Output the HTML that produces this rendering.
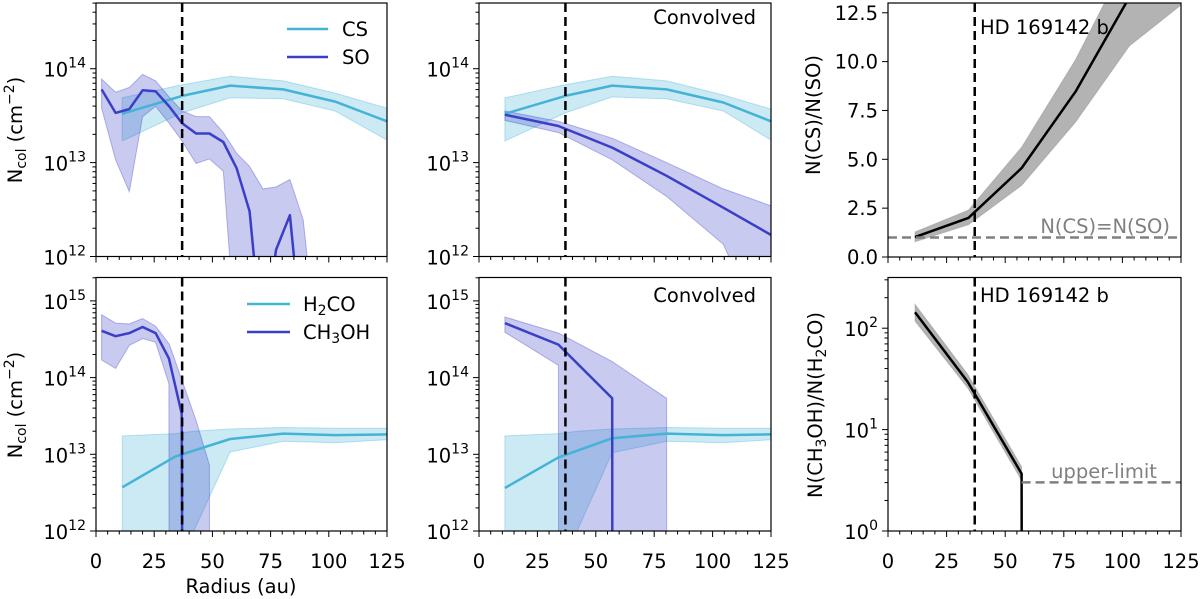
<!DOCTYPE html>
<html><head><meta charset="utf-8">
<style>
html,body{margin:0;padding:0;background:#fff;overflow:hidden;width:1200px;height:599px;}
svg{display:block;font-family:"DejaVu Sans","Liberation Sans",sans-serif;}
</style></head>
<body>
<svg id="fig" width="1200" height="599" viewBox="0 0 1200 599" xmlns="http://www.w3.org/2000/svg"></svg>
<script>
// ---- data (log panels store log10 values; 10 = below axis) ----
const planetR = 37;
// Panel 1 top: CS / SO
const p1csX = [11.2, 37, 57.6, 80.4, 102.7, 125];
const p1csY = [13.52, 13.71, 13.82, 13.78, 13.65, 13.44];
const p1csHi = [13.69, 13.83, 13.92, 13.87, 13.74, 13.58];
const p1csLo = [13.23, 13.53, 13.69, 13.68, 13.55, 13.24];
const p1soX = [2.4, 8.4, 14.3, 20, 25.6, 31.4, 37, 43, 48.7, 54.7, 60.4, 66, 71.7, 77.3, 83.3, 89, 95];
const p1soY = [13.78, 13.53, 13.57, 13.77, 13.76, 13.6, 13.42, 13.31, 13.31, 13.22, 12.94, 12.48, 11.0, 12.07, 12.44, 11.0, 10];
const p1soHi = [13.89, 13.75, 13.80, 13.94, 13.87, 13.7, 13.55, 13.49, 13.49, 13.32, 13.10, 12.96, 12.72, 12.74, 12.82, 12.39, 11.0];
const p1soLo = [13.58, 13.03, 12.69, 13.49, 13.60, 13.42, 13.23, 12.99, 13.04, 12.91, 11.0, 10, 10, 10, 10, 10, 10];
// Panel 2 top: convolved
const p2csX = [11.1, 37, 57, 80.3, 104.6, 125];
const p2csY = [13.52, 13.71, 13.82, 13.78, 13.64, 13.44];
const p2csHi = [13.69, 13.83, 13.92, 13.87, 13.72, 13.57];
const p2csLo = [13.23, 13.53, 13.70, 13.68, 13.55, 13.24];
const p2soX = [11.1, 34, 57, 80.3, 104.6, 125];
const p2soY = [13.51, 13.39, 13.16, 12.86, 12.52, 12.23];
const p2soHi = [13.55, 13.44, 13.26, 13.00, 12.72, 12.54];
const p2soLo = [13.45, 13.32, 13.03, 12.64, 12.13, 11.0];
// Panel 1 bottom: H2CO / CH3OH
const p4hX = [11.3, 34, 57.6, 80.4, 102.7, 125];
const p4hY = [12.57, 12.97, 13.20, 13.27, 13.25, 13.26];
const p4hBX = [11.3, 11.4, 34, 42, 57.6, 80.4, 102.7, 125];
const p4hHi = [13.24, 13.24, 13.27, 13.30, 13.33, 13.35, 13.34, 13.34];
const p4hLo = [10, 10, 11.45, 12.0, 13.03, 13.17, 13.15, 13.19];
const p4mX = [2.4, 8.4, 14.3, 20, 25.6, 31.3, 36.8, 37.2];
const p4mY = [14.61, 14.54, 14.58, 14.66, 14.58, 14.25, 13.53, 10];
const p4mBX = [2.4, 8.4, 14.3, 20, 25.6, 31.3, 31.4, 37, 43, 48.7, 48.8];
const p4mHi = [14.82, 14.71, 14.70, 14.77, 14.67, 14.44, 14.44, 13.96, 13.44, 12.86, 10];
const p4mLo = [14.23, 14.12, 14.42, 14.51, 14.46, 13.92, 10, 10, 10, 10, 10];
// Panel 2 bottom: convolved
const p5hX = [11.1, 34, 57, 80.3, 104.6, 125];
const p5hY = [12.56, 12.96, 13.21, 13.27, 13.25, 13.26];
const p5hBX = [11.1, 11.2, 34, 42, 57, 80.3, 104.6, 125];
const p5hHi = [13.24, 13.24, 13.27, 13.30, 13.33, 13.35, 13.34, 13.34];
const p5hLo = [10, 10, 11.45, 12.0, 13.02, 13.17, 13.15, 13.19];
const p5mX = [11.1, 34, 57, 57.1];
const p5mY = [14.71, 14.43, 13.73, 10];
const p5mBX = [11.1, 34, 34.1, 57, 80.3, 80.4];
const p5mHi = [14.79, 14.58, 14.58, 14.21, 13.73, 10];
const p5mLo = [14.59, 14.16, 10, 10, 10, 10];
// Panel 3 top: ratio CS/SO (linear)
const p3X = [11.5, 34.3, 57, 80, 103, 125];
const p3Y = [1.02, 2.0, 4.55, 8.46, 13.3, 18];
const p3Hi = [1.28, 2.4, 5.62, 10.1, 15.5, 21];
const p3Lo = [0.78, 1.65, 3.66, 6.9, 10.8, 12.9];
const p3Equal = 1.0;
// Panel 3 bottom: ratio CH3OH/H2CO (log10)
const p6X = [11.5, 34, 57, 57.1];
const p6Y = [2.157, 1.47, 0.565, -1];
const p6BX = [11.5, 34, 57];
const p6Hi = [2.236, 1.545, 0.633];
const p6Lo = [2.07, 1.41, 0.498];
const p6Upper = 0.48;
const xTicks = [0, 25, 50, 75, 100, 125];
const linTicks = [0, 2.5, 5, 7.5, 10, 12.5];
const linTickLabels = ["0.0", "2.5", "5.0", "7.5", "10.0", "12.5"];

const CS = "#45b3d6", SO = "#3b3fc7";
const FS = 19.5, SFS = 14;
const NS = "http://www.w3.org/2000/svg";
const svg = document.getElementById('fig');
function mk(tag, attrs, parent) {
  const e = document.createElementNS(NS, tag);
  for (const k in attrs) e.setAttribute(k, attrs[k]);
  (parent || svg).appendChild(e);
  return e;
}
const panels = {
  p1: {x0: 96, x1: 387, y0: 3, y1: 256.5, ymin: 12, ymax: 14.70},
  p2: {x0: 479, x1: 771, y0: 3, y1: 256.5, ymin: 12, ymax: 14.70},
  p3: {x0: 888, x1: 1181, y0: 3, y1: 257, ymin: 0, ymax: 13},
  p4: {x0: 96, x1: 387, y0: 277.5, y1: 531, ymin: 12, ymax: 15.305},
  p5: {x0: 479, x1: 771, y0: 277.5, y1: 531, ymin: 12, ymax: 15.305},
  p6: {x0: 888, x1: 1181, y0: 277.5, y1: 531, ymin: 0, ymax: 2.5}
};
function sx(p, x) { return p.x0 + (x - 0) / 125 * (p.x1 - p.x0); }
function sy(p, v) { return p.y1 - (v - p.ymin) / (p.ymax - p.ymin) * (p.y1 - p.y0); }
function linePath(p, xs, ys) { return xs.map((x, i) => (i ? 'L' : 'M') + sx(p, x).toFixed(1) + ' ' + sy(p, ys[i]).toFixed(1)).join(' '); }
function bandPath(p, xs, hi, lo) {
  let d = xs.map((x, i) => (i ? 'L' : 'M') + sx(p, x).toFixed(1) + ' ' + sy(p, hi[i]).toFixed(1)).join(' ');
  for (let i = xs.length - 1; i >= 0; i--) d += ' L' + sx(p, xs[i]).toFixed(1) + ' ' + sy(p, lo[i]).toFixed(1);
  return d + ' Z';
}
const defs = mk('defs', {});
let gid = 0;
function panelGroup(p, name) {
  const id = 'clip' + (gid++);
  const cp = mk('clipPath', {id: id}, defs);
  mk('rect', {x: p.x0, y: p.y0, width: p.x1 - p.x0, height: p.y1 - p.y0}, cp);
  const g = mk('g', {'clip-path': 'url(#' + id + ')'});
  
  
  return g;
}
function band(g, p, xs, hi, lo, color, name, op) {
  const e = mk('path', {d: bandPath(p, xs, hi, lo), fill: color, 'fill-opacity': op || 0.28, stroke: color, 'stroke-opacity': 0.35, 'stroke-width': 1}, g);
  
  
}
function line(g, p, xs, ys, color, name, w) {
  const e = mk('path', {d: linePath(p, xs, ys), fill: 'none', stroke: color, 'stroke-width': w || 2.5, 'stroke-linejoin': 'round'}, g);
  
  
}
function vline(g, p) {
  const e = mk('line', {x1: sx(p, planetR), x2: sx(p, planetR), y1: p.y0, y2: p.y1, stroke: '#000', 'stroke-width': 2.5, 'stroke-dasharray': '9,5'}, g);
  
  
}
function txt(x, y, s, attrs, name) {
  const e = mk('text', Object.assign({x: x, y: y, 'font-size': FS, fill: '#000'}, attrs || {}));
  e.innerHTML = s;
  
  
  return e;
}
function frame(p, name, xlabels, logY) {
  const g = mk('g', {});
  
  
  mk('rect', {x: p.x0, y: p.y0, width: p.x1 - p.x0, height: p.y1 - p.y0, fill: 'none', stroke: '#000', 'stroke-width': 1.2}, g);
  for (let x = 0; x <= 125; x += 5) {
    const maj = x % 25 === 0;
    mk('line', {x1: sx(p, x), x2: sx(p, x), y1: p.y1, y2: p.y1 + (maj ? 6 : 3.5), stroke: '#000', 'stroke-width': 1}, g);
  }
  if (xlabels) xTicks.forEach(t => {
    txt(sx(p, t), p.y1 + 37, String(t), {'text-anchor': 'middle'}, 'x-tick-label');
  });
  if (logY) {
    for (let d = Math.floor(p.ymin); d <= Math.ceil(p.ymax); d++) {
      for (let k = 1; k <= 9; k++) {
        const v = d + Math.log10(k);
        if (v < p.ymin - 1e-6 || v > p.ymax + 1e-6) continue;
        mk('line', {x1: p.x0, x2: p.x0 - (k === 1 ? 6 : 3.5), y1: sy(p, v), y2: sy(p, v), stroke: '#000', 'stroke-width': 1}, g);
      }
      if (d >= p.ymin && d <= p.ymax) {
        txt(p.x0 - 10, sy(p, d) + 8, '10<tspan font-size="' + SFS + '" dy="-9">' + d + '</tspan>', {'text-anchor': 'end'}, 'y-tick-label');
      }
    }
  }
}
const NCOL = 'N<tspan font-size="' + SFS + '" dy="4">col</tspan><tspan dy="-4"> (cm</tspan><tspan font-size="' + SFS + '" dy="-8">−2</tspan><tspan dy="8">)</tspan>';
// ---- Panel 1 ----
(function () {
  const p = panels.p1, g = panelGroup(p, 'cs-so-panel');
  band(g, p, p1csX, p1csHi, p1csLo, CS, 'cs-band');
  band(g, p, p1soX, p1soHi, p1soLo, SO, 'so-band');
  line(g, p, p1csX, p1csY, CS, 'cs-line');
  line(g, p, p1soX, p1soY, SO, 'so-line');
  vline(g, p);
  frame(p, 'cs-so-panel', false, true);
  mk('line', {x1: 287, x2: 328, y1: 29, y2: 29, stroke: CS, 'stroke-width': 2.5});
  mk('line', {x1: 287, x2: 328, y1: 57, y2: 57, stroke: SO, 'stroke-width': 2.5});
  txt(342, 36, 'CS', {}, 'legend-cs');
  txt(342, 64, 'SO', {}, 'legend-so');
  txt(22, 130, NCOL, {'text-anchor': 'middle', transform: 'rotate(-90 22 130)'}, 'y-axis-title-top');
})();
// ---- Panel 2 ----
(function () {
  const p = panels.p2, g = panelGroup(p, 'cs-so-convolved-panel');
  band(g, p, p2csX, p2csHi, p2csLo, CS, 'cs-band');
  band(g, p, p2soX, p2soHi, p2soLo, SO, 'so-band');
  line(g, p, p2csX, p2csY, CS, 'cs-line');
  line(g, p, p2soX, p2soY, SO, 'so-line');
  vline(g, p);
  frame(p, 'cs-so-convolved-panel', false, true);
  txt(756, 24, 'Convolved', {'text-anchor': 'end'}, 'convolved-label');
})();
// ---- Panel 3 ----
(function () {
  const p = panels.p3, g = panelGroup(p, 'cs-so-ratio-panel');
  band(g, p, p3X, p3Hi, p3Lo, '#808080', 'ratio-band', 0.6);
  line(g, p, p3X, p3Y, '#000', 'ratio-line');
  const e = mk('line', {x1: p.x0, x2: p.x1, y1: sy(p, p3Equal), y2: sy(p, p3Equal), stroke: '#808080', 'stroke-width': 2.5, 'stroke-dasharray': '9,5'}, g);
  
  
  vline(g, p);
  frame(p, 'cs-so-ratio-panel', false, false);
  linTicks.forEach((t, i) => {
    mk('line', {x1: p.x0, x2: p.x0 - 6, y1: sy(p, t), y2: sy(p, t), stroke: '#000', 'stroke-width': 1});
    txt(p.x0 - 10, sy(p, t) + 7, linTickLabels[i], {'text-anchor': 'end'}, 'y-tick-label');
  });
  txt(1170, 233, 'N(CS)=N(SO)', {'text-anchor': 'end', fill: '#808080'}, 'equal-label');
  txt(980, 34, 'HD 169142 b', {}, 'planet-label');
  txt(820, 115, 'N(CS)/N(SO)', {'text-anchor': 'middle', transform: 'rotate(-90 820 115)'}, 'y-axis-title-ratio-top');
})();
// ---- Panel 4 ----
(function () {
  const p = panels.p4, g = panelGroup(p, 'h2co-ch3oh-panel');
  band(g, p, p4hBX, p4hHi, p4hLo, CS, 'h2co-band');
  band(g, p, p4mBX, p4mHi, p4mLo, SO, 'ch3oh-band');
  line(g, p, p4hX, p4hY, CS, 'h2co-line');
  line(g, p, p4mX, p4mY, SO, 'ch3oh-line');
  vline(g, p);
  frame(p, 'h2co-ch3oh-panel', true, true);
  mk('line', {x1: 247, x2: 290, y1: 304, y2: 304, stroke: CS, 'stroke-width': 2.5});
  mk('line', {x1: 247, x2: 290, y1: 332, y2: 332, stroke: SO, 'stroke-width': 2.5});
  txt(303, 311, 'H<tspan font-size="' + SFS + '" dy="4">2</tspan><tspan dy="-4">CO</tspan>', {}, 'legend-h2co');
  txt(303, 339, 'CH<tspan font-size="' + SFS + '" dy="4">3</tspan><tspan dy="-4">OH</tspan>', {}, 'legend-ch3oh');
  txt(22, 405, NCOL, {'text-anchor': 'middle', transform: 'rotate(-90 22 405)'}, 'y-axis-title-bottom');
  txt(241, 593, 'Radius (au)', {'text-anchor': 'middle'}, 'x-axis-title');
})();
// ---- Panel 5 ----
(function () {
  const p = panels.p5, g = panelGroup(p, 'h2co-ch3oh-convolved-panel');
  band(g, p, p5hBX, p5hHi, p5hLo, CS, 'h2co-band');
  band(g, p, p5mBX, p5mHi, p5mLo, SO, 'ch3oh-band');
  line(g, p, p5hX, p5hY, CS, 'h2co-line');
  line(g, p, p5mX, p5mY, SO, 'ch3oh-line');
  vline(g, p);
  frame(p, 'h2co-ch3oh-convolved-panel', true, true);
  txt(756, 302, 'Convolved', {'text-anchor': 'end'}, 'convolved-label');
})();
// ---- Panel 6 ----
(function () {
  const p = panels.p6, g = panelGroup(p, 'ch3oh-h2co-ratio-panel');
  band(g, p, p6BX, p6Hi, p6Lo, '#808080', 'ratio-band', 0.6);
  line(g, p, p6X, p6Y, '#000', 'ratio-line');
  const e = mk('line', {x1: sx(p, 57), x2: p.x1, y1: sy(p, p6Upper), y2: sy(p, p6Upper), stroke: '#808080', 'stroke-width': 2.5, 'stroke-dasharray': '9,5'}, g);
  
  
  vline(g, p);
  frame(p, 'ch3oh-h2co-ratio-panel', true, true);
  txt(1104, 478, 'upper-limit', {'text-anchor': 'middle', fill: '#808080'}, 'upper-limit-label');
  txt(980, 302, 'HD 169142 b', {}, 'planet-label');
  txt(822, 405, 'N(CH<tspan font-size="' + SFS + '" dy="4">3</tspan><tspan dy="-4">OH)/N(H</tspan><tspan font-size="' + SFS + '" dy="4">2</tspan><tspan dy="-4">CO)</tspan>', {'text-anchor': 'middle', transform: 'rotate(-90 822 405)'}, 'y-axis-title-ratio-bottom');
})();
</script>
</body></html>
